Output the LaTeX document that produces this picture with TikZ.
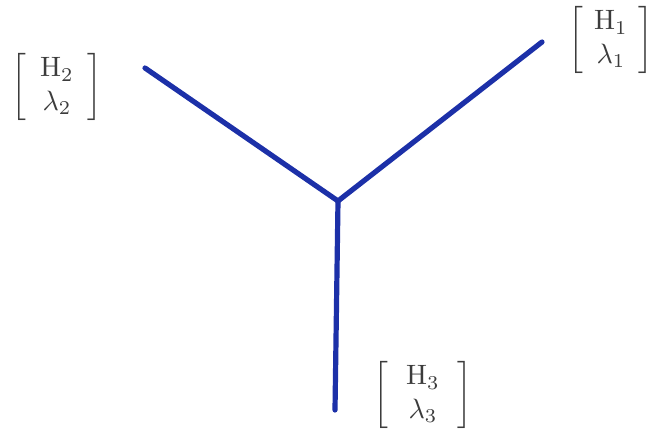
\documentclass[tikz,border=0pt]{standalone}
\usepackage{amsmath}
\definecolor{lineblue}{RGB}{28,48,168}
\definecolor{pencil}{RGB}{60,60,60}
\tikzset{
  edge/.style={draw=lineblue, line width=5.2pt, line cap=round, line join=round},
  lab/.style={text=pencil, inner sep=0pt, scale=2.8},
}
\begin{document}
\begin{tikzpicture}[x=1pt,y=-1pt]
\useasboundingbox (0,0) rectangle (649,435);
\coordinate (c) at (338,201);
\coordinate (e2) at (145,68);
\coordinate (e1) at (542,42);
\coordinate (e3) at (335,410);
\draw[edge] (e2) -- (c);
\draw[edge] (e1) -- (c);
\draw[edge] (e3) -- (c);
\node[lab] (l2) at (57,87) {$\left[\begin{array}{c}\mathrm{H}_2\\ \lambda_2\end{array}\right]$};
\node[lab] (l1) at (611,40) {$\left[\hspace{-1.1pt}\begin{array}{c}\mathrm{H}_1\\ \lambda_1\end{array}\hspace{-1.1pt}\right]$};
\node[lab] (l3) at (423,395) {$\left[\hspace{1.3pt}\begin{array}{c}\mathrm{H}_3\\ \lambda_3\end{array}\hspace{1.3pt}\right]$};
\end{tikzpicture}
\end{document}
